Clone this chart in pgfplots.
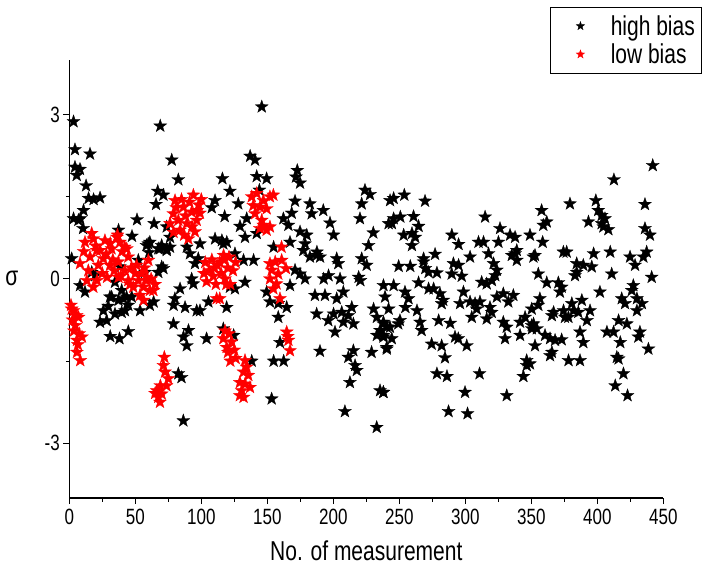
\documentclass[border=0pt]{standalone}
\usepackage{fontspec}
\setmainfont{Liberation Sans}
\usepackage{pgfplots}
\pgfplotsset{compat=1.18}
\pgfdeclareplotmark{fstar}{%
  \pgfpathmoveto{\pgfpointpolar{90}{\pgfplotmarksize}}%
  \pgfpathlineto{\pgfpointpolar{126}{0.40\pgfplotmarksize}}%
  \pgfpathlineto{\pgfpointpolar{162}{\pgfplotmarksize}}%
  \pgfpathlineto{\pgfpointpolar{198}{0.40\pgfplotmarksize}}%
  \pgfpathlineto{\pgfpointpolar{234}{\pgfplotmarksize}}%
  \pgfpathlineto{\pgfpointpolar{270}{0.40\pgfplotmarksize}}%
  \pgfpathlineto{\pgfpointpolar{306}{\pgfplotmarksize}}%
  \pgfpathlineto{\pgfpointpolar{342}{0.40\pgfplotmarksize}}%
  \pgfpathlineto{\pgfpointpolar{18}{\pgfplotmarksize}}%
  \pgfpathlineto{\pgfpointpolar{54}{0.40\pgfplotmarksize}}%
  \pgfpathclose
  \pgfusepathqfillstroke
}
\pgfplotstableread{
x y
3.2 2.87
68.9 2.79
4.3 2.36
15.7 2.28
4.3 2.04
8.1 2.00
5.6 1.89
77.6 2.17
82.6 1.81
12.7 1.70
116 1.83
67 1.60
71.3 1.53
14.6 1.47
18.4 1.45
23.3 1.48
65.7 1.36
110.4 1.43
107.9 1.30
10.8 1.25
3.2 1.10
8.3 1.10
10.4 0.92
51.3 1.08
64.2 1.01
117.7 1.14
37.3 0.89
47.5 0.78
73.8 0.95
76.3 0.76
110.4 0.73
116.7 0.64
59.8 0.64
68.7 0.55
76.3 0.58
99 0.64
91.4 0.46
1.8 0.37
6.9 1.07
61 0.67
58.5 0.61
70 0.61
73.8 0.55
67.4 0.55
89 0.58
52.3 0.34
57.4 0.12
71.3 0.19
70 0.22
67.4 0.12
34.6 -0.06
39.7 -0.21
43.4 -0.33
30.8 -0.33
37.3 -0.39
8.1 -0.12
11.9 -0.24
17 0.12
19.6 0.06
38.4 0.22
60.4 0.48
73.8 0.52
32.1 -0.33
41 -0.36
47.3 -0.33
39.7 -0.61
42.2 -0.58
25.8 -0.58
53.6 -0.58
63.9 -0.42
34.6 -0.64
23.3 -0.79
28.3 -0.76
31 -1.05
38 -1.09
44.7 -0.96
78.9 -0.82
87.7 -0.52
80 -0.36
83.9 -0.18
92.7 0.00
94 -0.09
95.2 0.28
97.7 0.37
96.5 -0.58
99 -0.58
90.3 -0.94
86.5 -1.06
89 -1.22
104 -1.09
116.7 -0.91
119.2 -0.52
105.4 -0.42
82.6 -1.73
85 -1.80
86.4 -2.59
29.5 -0.50
44.7 -0.48
61 -0.48
79 -0.48
145.8 3.14
137 2.24
140.7 2.17
142 1.87
149.5 1.83
172.7 1.98
171.7 1.86
174.8 1.75
121.7 1.60
144 1.62
128 1.37
171 1.42
182.3 1.37
183.6 1.19
192.4 1.25
168.5 1.20
162.2 1.10
166 0.98
197.5 1.02
129.3 0.96
134.4 1.10
133.1 0.76
142 0.83
174.8 0.86
179.9 0.80
178.6 0.64
177.3 0.52
200.2 0.80
230.3 0.84
221.5 1.37
220.2 1.10
224 1.62
227.8 1.54
226.7 0.61
221.5 0.37
243 1.43
241.9 1.01
167.2 0.67
154.8 0.58
187.6 0.49
190 0.40
115.6 0.70
119.3 0.67
125.5 0.46
202.6 0.37
132 0.34
139.6 0.34
182.3 0.40
187.4 0.43
203.8 0.28
225.3 0.25
171 0.16
174.8 0.09
178.6 0.00
192.7 0.00
196.4 0.06
205.1 0.00
219.2 0.03
220.5 -0.03
133.1 -0.06
121.7 -0.15
125.5 -0.18
167.2 -0.12
149.5 -0.24
152 -0.42
158.3 -0.45
164.7 -0.52
158.3 -0.70
186.1 -0.30
193.7 -0.30
202.6 -0.36
207.6 -0.24
214 -0.52
211.4 -0.67
206.4 -0.61
200.2 -0.64
196.2 -0.76
207.6 -0.79
215.2 -0.82
187.4 -0.64
201.3 -0.97
230.5 -0.55
233 -0.70
238 -0.79
240.5 -0.88
238 -0.12
239.2 -0.33
233 -1.03
238 -1.06
240.5 -1.25
229 -1.34
215.2 -1.31
211.4 -1.43
216.5 -1.58
217.8 -1.67
212.6 -1.89
208.8 -2.42
232.9 -2.71
235.4 -2.04
238 -2.07
189.9 -1.32
154.8 -1.50
162.4 -1.50
138.2 -1.50
153.3 -2.19
124.5 -1.03
159.6 -1.16
245.7 1.47
253.8 1.53
269.5 1.42
245.7 1.10
250.8 1.13
244.4 1.01
260.8 1.14
264.6 0.96
253.3 0.80
259.6 0.83
262.1 0.76
259.6 0.61
315 1.13
289.8 0.80
294.9 0.63
277.1 0.45
268.4 0.37
310 0.67
313.8 0.67
303.6 0.40
317.6 0.46
326.3 0.92
325.1 0.67
333.9 0.80
337.7 0.76
339 0.52
335.2 0.43
349 0.80
357.8 1.25
359.1 0.98
361.7 1.04
358.6 0.67
351.6 0.40
442 2.07
412.6 1.81
379.3 1.37
398.9 1.43
400.7 1.25
403.3 1.16
405.8 1.10
393.3 1.04
403.3 1.01
404.6 0.95
408.4 0.90
436.1 1.36
436.1 0.92
439.9 0.80
374.3 0.49
376.8 0.49
397.2 0.46
409.8 0.49
424.8 0.40
437.4 0.49
352.8 0.43
434.9 0.40
428.6 0.25
384.4 0.28
389.4 0.25
395.8 0.22
383.1 0.06
384.4 0.12
410.9 0.09
441.2 0.03
355.3 0.09
361.7 -0.07
370.5 -0.07
371.7 -0.24
373 -0.15
402 -0.24
427.3 -0.12
426.1 -0.21
418.5 -0.36
421 -0.45
430 -0.36
433.8 -0.45
430 -0.58
356.5 -0.36
355.3 -0.48
350.3 -0.55
380.7 -0.45
388.3 -0.39
366.9 -0.61
374.4 -0.58
375.5 -0.70
378.1 -0.70
381.9 -0.58
385.6 -0.61
394.5 -0.58
365.6 -0.67
392.1 -0.76
416.1 -0.76
422.4 -0.82
351.7 -0.82
350.4 -0.91
407.3 -0.97
412.3 -0.97
417.4 -1.16
386.9 -0.97
389.4 -1.16
432.3 -0.97
431.1 -1.06
360.4 -1.03
364.2 -1.09
368 -1.12
373 -1.11
352.8 -1.22
438.7 -1.28
365.6 -1.34
364.2 -1.40
378.2 -1.49
386.9 -1.49
349 -1.55
414.8 -1.43
416.1 -1.46
419.8 -1.73
413.6 -1.95
422.9 -2.13
337.7 0.46
339 0.34
249.5 0.23
258.3 0.23
268.4 0.31
269.7 0.19
272.2 0.12
278.5 0.11
291 0.28
294.9 0.25
297.3 0.05
289.7 0.09
321.4 0.28
323.9 0.16
322.7 0.06
320.2 -0.03
312.4 -0.06
316.2 -0.09
245.7 -0.12
264.6 -0.07
272.2 -0.18
276 -0.18
254.3 -0.24
280.8 -0.27
283.3 -0.39
282.1 -0.45
257 -0.36
298.6 -0.24
296 -0.45
303.6 -0.42
307.4 -0.45
311.1 -0.42
308.6 -0.55
304.9 -0.70
316.2 -0.73
320 -0.61
318.7 -0.52
323.9 -0.33
328.8 -0.27
336.4 -0.30
332.6 -0.42
241.9 -0.55
254.6 -0.52
263.4 -0.58
250.5 -0.76
249.2 -0.82
242.9 -0.88
237.9 -0.82
265.7 -0.79
266.9 -0.94
279.8 -0.76
288.6 -0.81
328.8 -0.79
331.4 -0.88
330.1 -1.09
341.5 -0.79
345.3 -0.70
354.2 -0.91
350.3 -0.85
341.5 -1.03
235.4 -0.94
237.9 -1.03
244.3 -1.09
240.5 -1.28
274.5 -1.19
282.1 -1.22
292.2 -1.06
294.7 -1.09
301.1 -1.22
284.6 -1.44
278.5 -1.73
286.1 -1.78
310.8 -1.73
346.5 -1.49
346.5 -1.58
344 -1.78
237.9 -2.07
299.8 -2.07
331.4 -2.13
287.3 -2.42
301.7 -2.46
}\high
\pgfplotstableread{
x y
1.3 -0.48
1.8 -0.55
3.2 -0.58
5.6 -0.67
7 -0.70
4.5 -0.85
2.5 -0.75
5.8 -1.12
9.6 -1.06
7.5 -1.00
5.8 -1.34
8.3 -1.49
3.5 -0.95
6.5 -1.20
11.9 0.67
18.3 0.73
36.1 0.76
38.4 0.67
43.5 0.55
23.3 0.52
15.7 0.40
25.8 0.37
8.1 0.28
30.8 0.25
37.1 0.31
44.7 0.40
59.9 0.34
14.4 0.15
13.3 -0.03
21 -0.03
28.6 0.03
37.3 0.03
44.7 -0.03
52.3 -0.03
58.6 0.03
48.5 -0.15
56.1 -0.15
63.7 -0.21
53.5 -0.30
18.2 -0.15
56.3 -0.39
61 -0.21
58.5 -0.03
17 0.83
20 0.60
32 0.55
28 0.45
40 0.50
47 0.20
50 0.10
34 0.15
25 0.10
42 0.15
55 0.10
11 0.50
31 0.65
36.5 0.80
39 0.05
46 -0.10
51 0.25
57 0.20
62 0.00
65 -0.10
22 0.25
27 0.70
33 0.35
42 0.58
20.8 0.52
80.1 1.43
94 1.53
86.4 1.31
92.7 1.22
78.8 1.19
82.6 1.07
89 1.01
96.5 1.07
76.3 1.01
83.9 0.89
90.2 0.73
95.2 0.86
98 1.35
100 1.45
81 1.30
88 1.15
85 1.45
93 0.95
97 1.25
79 0.85
91 1.40
99 1.20
87 0.80
103 0.30
106 0.15
109 0.05
112 0.25
115 0.10
118 0.00
120 0.20
104 -0.05
108 0.35
111 -0.10
114 0.30
117 0.35
121 0.40
116.9 0.43
111.6 -0.36
114 -0.36
102 0.10
110 0.20
119 -0.10
124 0.15
126 0.30
122 -0.10
116.7 -1.09
119.2 -1.25
120.2 -1.34
121 -1.00
123 -1.15
125 -1.30
126 -1.45
122 -1.50
118 -0.95
72 -1.43
71.3 -1.58
75 -1.82
73.6 -1.95
66.2 -2.04
67.4 -2.16
68.7 -2.25
65 -2.09
70 -2.10
72.5 -1.70
69 -1.95
133.1 -1.49
134.3 -1.61
132 -1.70
135.6 -1.76
129.2 -1.89
133.1 -1.92
136.9 -1.98
130.6 -2.04
129.2 -2.13
132 -2.16
138.2 1.50
142 1.56
147 1.43
152 1.50
154.6 1.53
139.4 1.34
144.4 1.31
149.5 1.28
140.7 1.19
145.8 1.07
147 0.98
149.5 0.89
144.4 0.92
152 0.95
152 0.28
156 0.31
160.9 0.34
153.3 0.16
158.3 0.09
164.1 0.19
152 0.00
157 -0.09
154.6 -0.18
159.6 -0.36
160.8 0.58
164.7 -0.97
166 -1.12
167.2 -1.31
165.5 -1.05
}\low
\begin{document}
\begin{tikzpicture}
\begin{axis}[name=ax, scale only axis, width=594pt, height=438.3pt,
  xmin=0, xmax=450, ymin=-4, ymax=4,
  axis x line*=bottom, axis y line*=left,
  axis line style={line width=1.2pt},
  xtick={0,50,...,450}, minor x tick num=1,
  ytick={-3,0,3}, minor ytick={-1.5,1.5},
  tick align=outside, major tick length=6pt, minor tick length=3.5pt,
  every tick/.style={line width=1pt, black},
  /pgf/number format/assume math mode=true,
  tick label style={font=\fontsize{17}{17}\selectfont},
  xticklabel={\scalebox{1}[1.3]{\pgfmathprintnumber{\tick}}},
  yticklabel={\scalebox{1}[1.3]{\pgfmathprintnumber{\tick}}},
  xticklabel style={yshift=-2pt},
  xlabel={\scalebox{1}[1.3]{No. of measurement}}, ylabel={\scalebox{1}[1.3]{σ}},
  label style={font=\fontsize{21}{21}\selectfont},
  xlabel style={yshift=-9pt},
  ylabel style={at={(rel axis cs:-0.0965,0.5)}, anchor=center, rotate=-90},
  clip=false,
  legend style={at={(rel axis cs:0.809,1.12)}, anchor=north west, draw=black, line width=0.6pt,
    font=\fontsize{21}{21}\selectfont, row sep=3pt, inner xsep=4pt, inner ysep=6pt},
  legend cell align=left,
  legend image code/.code={\path (-26pt,0) (28pt,0); \draw[#1,mark size=4.5pt] plot coordinates {(0pt,0pt)};},
]
\addplot[only marks, mark=fstar, mark size=6.8pt, mark options={fill=black, draw=black, line width=0.3pt}] table[x=x,y=y] {\high};
\addlegendentry{\scalebox{1}[1.3]{high bias}}
\addplot[only marks, mark=fstar, mark size=6.8pt, mark options={fill=red, draw=red, line width=0.3pt}] table[x=x,y=y] {\low};
\addlegendentry{\scalebox{1}[1.3]{low bias}}
\end{axis}
\pgfresetboundingbox
\path[use as bounding box] ([xshift=-69.3pt,yshift=-69pt]ax.south west) rectangle ([xshift=39.7pt,yshift=59.7pt]ax.north east);
\end{tikzpicture}
\end{document}
